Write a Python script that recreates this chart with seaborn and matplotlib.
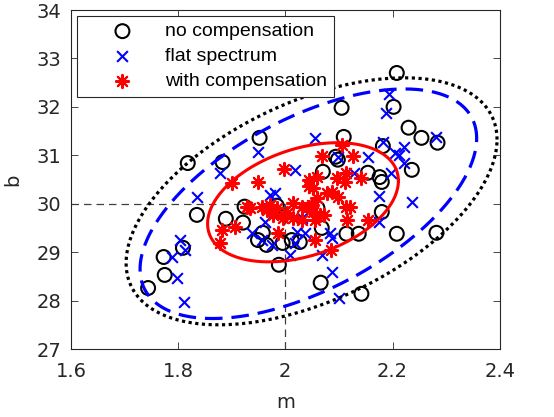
import numpy as np
import pandas as pd
import matplotlib
matplotlib.use("Agg")
import matplotlib.pyplot as plt
import seaborn as sns

# Samples (m, b)
no_comp_m = [1.744, 1.773, 1.775, 1.809, 1.818, 1.835, 1.883, 1.889, 1.921, 1.924,
             1.949, 1.952, 1.958, 1.965, 1.984, 1.988, 1.995, 2.012, 2.027, 2.060,
             2.068, 2.066, 2.070, 2.094, 2.098, 2.105, 2.109, 2.114, 2.137, 2.142,
             2.154, 2.176, 2.180, 2.180, 2.182, 2.202, 2.208, 2.208, 2.230, 2.254,
             2.282, 2.284, 2.236]
no_comp_b = [28.26, 28.90, 28.53, 29.09, 30.84, 29.77, 30.86, 29.69, 29.61, 29.94,
             29.25, 31.36, 29.40, 29.15, 29.96, 28.74, 29.19, 29.25, 29.21, 29.91,
             29.50, 28.37, 30.66, 30.97, 30.91, 31.98, 31.38, 29.38, 29.38, 28.14,
             30.64, 30.55, 30.45, 29.83, 31.19, 32.00, 32.70, 29.38, 31.57, 31.36,
             29.40, 31.26, 30.70]

flat_m = [1.788, 1.798, 1.803, 1.811, 1.812, 1.835, 1.878, 1.937, 1.949, 1.956,
          1.962, 1.965, 1.971, 1.980, 1.975, 2.008, 2.018, 2.019, 2.021, 2.036,
          2.032, 2.055, 2.068, 2.083, 2.088, 2.088, 2.100, 2.098, 2.129, 2.155,
          2.174, 2.174, 2.182, 2.187, 2.193, 2.204, 2.213, 2.221, 2.221, 2.198,
          2.236, 2.282]
flat_b = [28.90, 28.47, 29.25, 27.98, 29.05, 30.14, 30.64, 29.40, 31.07, 29.25,
          29.63, 29.94, 30.18, 30.22, 29.15, 28.95, 29.19, 30.70, 29.42, 29.40,
          29.71, 31.36, 28.95, 29.40, 29.30, 28.59, 28.06, 30.97, 30.64, 30.97,
          30.16, 29.63, 31.28, 31.88, 32.27, 31.05, 31.01, 31.17, 30.84, 30.64,
          30.04, 31.38]

comp_m = [1.878, 1.881, 1.900, 1.906, 1.928, 1.934, 1.949, 1.956, 1.965, 1.971,
          1.984, 1.977, 1.986, 1.995, 1.997, 2.003, 2.014, 2.014, 2.032, 2.032,
          2.045, 2.045, 2.049, 2.051, 2.051, 2.055, 2.055, 2.059, 2.064, 2.068,
          2.073, 2.077, 2.086, 2.088, 2.096, 2.098, 2.105, 2.111, 2.114, 2.114,
          2.116, 2.120, 2.127, 2.142, 2.154, 2.045, 2.060]
comp_b = [29.19, 29.46, 30.43, 29.52, 29.94, 29.91, 30.45, 29.94, 29.87, 29.98,
          29.91, 29.77, 29.40, 29.71, 30.72, 29.81, 30.02, 29.71, 29.94, 29.67,
          30.49, 29.94, 29.98, 30.33, 29.83, 29.67, 29.25, 30.55, 29.77, 30.99,
          29.77, 30.22, 29.05, 30.25, 30.53, 30.14, 31.21, 30.45, 30.64, 29.94,
          29.67, 29.94, 30.99, 30.53, 29.67, 30.37, 30.12]

# Ellipses: centre, half extents and correlation (black, blue, red)
ell_cx = [2.049, 2.043, 2.033]
ell_cy = [30.05, 30.00, 30.03]
ell_sx = [0.346, 0.314, 0.178]
ell_sy = [2.55, 2.37, 1.23]
ell_rho = [0.50, 0.57, 0.36]

labels = ["no compensation", "flat spectrum", "with compensation"]

fig = plt.figure(figsize=(5.54, 4.17), dpi=100)
ax = fig.add_axes([0.128, 0.163, 0.774, 0.813])
plt.rcParams["font.family"] = ["Liberation Sans", "DejaVu Sans"]

# crosshair at (2, 30)
ax.plot([2, 2], [27, 30], color="0.25", lw=0.9, dashes=(6, 4))
ax.plot([1.6, 2], [30, 30], color="0.25", lw=0.9, dashes=(6, 4))

sns.scatterplot(x=no_comp_m, y=no_comp_b, ax=ax, marker="o", s=100,
                facecolor="none", edgecolor="black", linewidth=1.5,
                label=labels[0], zorder=3)
sns.scatterplot(x=flat_m, y=flat_b, ax=ax, marker="x", s=60,
                color="blue", linewidth=1.5, label=labels[1], zorder=3)
sns.scatterplot(x=comp_m, y=comp_b, ax=ax, marker=(8, 2, 0), s=90,
                color="red", linewidth=1.5, label=labels[2], zorder=3)

t = np.linspace(0, 2 * np.pi, 400)
styles = [dict(color="black", lw=2.3, linestyle=(0, (1, 1.1)), dash_capstyle="butt"),
          dict(color="blue", lw=2.3, linestyle=(0, (5.5, 2.8))),
          dict(color="red", lw=2.2, linestyle="-")]
for cx, cy, sx, sy, r, st in zip(ell_cx, ell_cy, ell_sx, ell_sy, ell_rho, styles):
    ex = cx + sx * np.cos(t)
    ey = cy + sy * (r * np.cos(t) + np.sqrt(1 - r ** 2) * np.sin(t))
    df = pd.DataFrame({"m": ex, "b": ey})
    sns.lineplot(data=df, x="m", y="b", ax=ax, sort=False, estimator=None,
                 zorder=4, **st)

ax.set_xlim(1.6, 2.4)
ax.set_ylim(27, 34)
ax.set_xticks([1.6, 1.8, 2.0, 2.2, 2.4])
ax.set_xticklabels(["1.6", "1.8", "2", "2.2", "2.4"])
ax.set_yticks(range(27, 35))
ax.tick_params(direction="in", top=True, right=True, labelsize=14,
               length=5, width=0.6, colors="0.15")
ax.tick_params(axis="x", pad=9)
ax.tick_params(axis="y", pad=7)
for sp in ax.spines.values():
    sp.set_color("0.15")
    sp.set_linewidth(0.8)
ax.set_xlabel("m", fontsize=14, color="0.15", labelpad=9)
ax.set_ylabel("b", fontsize=14, color="0.15", labelpad=10)

leg = ax.legend(loc="upper left", fontsize=14, frameon=True, fancybox=False,
                framealpha=1, borderaxespad=0.3, handletextpad=0.2,
                borderpad=0.35, labelspacing=0.38, handlelength=4.0)
leg.get_frame().set_edgecolor("0.15")
leg.get_frame().set_linewidth(0.8)

fig.savefig("out.png", dpi=100)
